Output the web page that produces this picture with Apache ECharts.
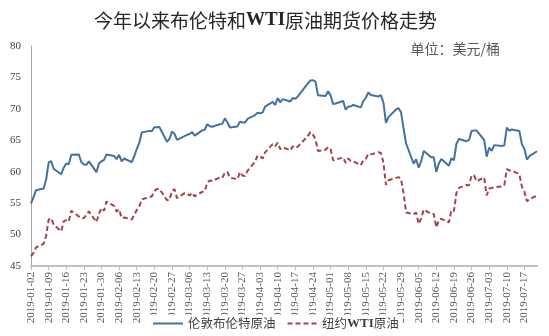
<!DOCTYPE html>
<html><head><meta charset="utf-8">
<script src="https://cdn.jsdelivr.net/npm/echarts@6/dist/echarts.min.js"></script>
<style>html,body{margin:0;padding:0;background:#fff}#c{width:549px;height:336px}</style>
</head><body><div id="c"></div>
<script>
// Trading days (2019, MM-DD)
const dates = [
'01-02','01-03','01-04','01-07','01-08','01-09','01-10','01-11','01-14','01-15','01-16','01-17','01-18','01-21','01-22','01-23','01-24','01-25','01-28','01-29','01-30','01-31',
'02-01','02-04','02-05','02-06','02-07','02-08','02-11','02-12','02-13','02-14','02-15','02-18','02-19','02-20','02-21','02-22','02-25','02-26','02-27','02-28',
'03-01','03-04','03-05','03-06','03-07','03-08','03-11','03-12','03-13','03-14','03-15','03-18','03-19','03-20','03-21','03-22','03-25','03-26','03-27','03-28','03-29',
'04-01','04-02','04-03','04-04','04-05','04-08','04-09','04-10','04-11','04-12','04-15','04-16','04-17','04-18','04-22','04-23','04-24','04-25','04-26','04-29','04-30',
'05-01','05-02','05-03','05-06','05-07','05-08','05-09','05-10','05-13','05-14','05-15','05-16','05-17','05-20','05-21','05-22','05-23','05-24','05-27','05-28','05-29','05-30','05-31',
'06-03','06-04','06-05','06-06','06-07','06-10','06-11','06-12','06-13','06-14','06-17','06-18','06-19','06-20','06-21','06-24','06-25','06-26','06-27','06-28',
'07-01','07-02','07-03','07-04','07-05','07-08','07-09','07-10','07-11','07-12','07-15','07-16','07-17','07-18','07-19','07-22'
];
const brent = [
54.91,55.95,57.06,57.33,58.72,61.44,61.68,60.48,59.59,60.64,61.32,61.18,62.70,62.74,61.50,61.14,61.09,61.64,59.93,61.32,61.65,61.89,
62.75,62.51,61.98,62.69,61.63,62.10,61.51,62.42,63.61,64.57,66.25,66.50,66.45,67.08,67.07,67.12,64.76,65.21,66.39,66.03,
65.07,65.67,65.86,65.99,66.30,65.74,66.58,66.67,67.55,67.23,67.16,67.54,67.61,68.50,67.86,67.03,67.21,67.97,67.83,67.82,68.39,
69.01,69.37,69.31,69.40,70.34,71.10,70.61,71.73,71.02,71.55,71.18,71.72,71.62,71.97,74.04,74.51,74.57,74.35,72.15,72.04,72.80,
72.18,70.75,70.85,71.24,69.88,70.37,70.39,70.62,70.23,71.24,71.77,72.62,72.21,71.97,72.18,70.99,67.76,68.69,69.90,70.11,69.45,66.87,64.49,
61.28,61.97,60.63,61.67,63.29,62.29,62.29,59.97,61.31,62.01,60.94,62.14,61.82,64.45,65.20,64.86,65.05,66.49,66.55,66.55,
65.06,62.40,63.82,63.30,64.23,64.11,64.16,67.01,66.52,66.72,66.48,64.35,63.66,61.93,62.47,63.26
];
const wti = [
46.54,47.09,47.96,48.52,49.78,52.36,52.59,51.59,50.51,52.11,52.31,52.07,53.80,null,52.57,52.62,53.13,53.69,51.99,53.31,54.23,53.79,
55.26,54.56,53.66,54.01,52.64,52.72,52.41,53.10,53.90,54.41,55.59,null,56.09,56.92,57.26,57.26,55.48,55.50,56.94,57.22,
55.80,56.59,56.56,56.22,56.66,56.07,56.79,56.87,58.26,58.61,58.52,59.09,59.03,59.83,59.98,59.04,58.82,59.94,59.41,59.30,60.14,
61.59,62.58,62.46,62.10,63.08,64.40,64.05,64.61,63.58,63.89,63.40,64.05,63.76,64.00,65.70,66.30,65.89,65.21,63.30,63.50,63.91,
63.60,61.81,61.94,62.25,61.40,62.12,61.70,61.66,61.04,61.78,62.02,62.87,62.76,63.10,62.99,61.42,57.91,58.63,null,59.14,58.81,56.59,53.50,
53.25,53.48,51.68,52.59,53.99,53.26,53.27,51.14,52.28,52.51,51.93,53.90,53.76,56.65,57.43,57.90,57.83,59.38,59.43,58.47,
59.09,56.25,57.34,null,57.51,57.66,57.83,60.43,60.20,60.21,59.58,57.62,56.78,55.30,55.63,56.22
];
const tickLabels = [
'2019-01-02','2019-01-09','2019-01-16','2019-01-23','2019-01-30','2019-02-06','2019-02-13','2019-02-20','2019-02-27',
'2019-03-06','2019-03-13','2019-03-20','2019-03-27','2019-04-03','2019-04-10','2019-04-17','2019-04-24','2019-05-01',
'2019-05-08','2019-05-15','2019-05-22','2019-05-29','2019-06-05','2019-06-12','2019-06-19','2019-06-26','2019-07-03',
'2019-07-10','2019-07-17'
];
const seriesNames = ['伦敦布伦特原油','纽约WTI原油'];

const BASE = Date.UTC(2019,0,2);
function dayIndex(s){ const p = s.split('-').map(Number); return Math.round((Date.UTC(p[0],p[1]-1,p[2]) - BASE)/864e5); }
const xs = dates.map(d => dayIndex('2019-' + d));
const tickVals = tickLabels.map(dayIndex);
const lastX = xs[xs.length-1];
function pairs(vals){ return xs.map((x,i)=>[x, vals[i]]).filter(p => p[1] != null); }

const SERIF = '"Liberation Serif", "Times New Roman", serif';
const CJK = '"Noto Sans CJK SC", sans-serif';
const BLUE = '#44729E', RED = '#A2434D';

const chart = echarts.init(document.getElementById('c'), null, {renderer:'canvas'});
chart.setOption({
  animation:false,
  backgroundColor:'#fff',
  title:[{
    text:'{a|今年以来布伦特和}{b|WTI}{a|原油期货价格走势}',
    left:94, top:11, padding:0,
    textStyle:{fontWeight:'normal', rich:{
      a:{fontFamily:CJK, fontSize:19, fontWeight:'normal', color:'#262626'},
      b:{fontFamily:SERIF, fontSize:19, fontWeight:'bold', color:'#262626'}
    }}
  },{
    text:'单位：美元/桶', right:49, top:42, padding:0,
    textStyle:{fontFamily:CJK, fontSize:14, fontWeight:'normal', color:'#595959'}
  }],
  grid:{left:31, right:12, top:46, bottom:70, containLabel:false},
  legend:{
    left:149, top:315, padding:[2,4,2,4], itemGap:12, itemWidth:30, itemHeight:2,
    backgroundColor:'#fff', z:10,
    data:[
      {name:seriesNames[0], icon:'path://M0,0h30v2h-30z'},
      {name:seriesNames[1], icon:'path://M0,0h5v2h-5zM8,0h5v2h-5zM16,0h5v2h-5zM24,0h5v2h-5z'}
    ],
    formatter:function(n){ return n.indexOf('WTI')>=0 ? '{a|纽约}{b|WTI}{a|原油}' : '{a|'+n+'}'; },
    textStyle:{color:'#404040', rich:{
      a:{fontFamily:CJK, fontSize:12.5, color:'#404040'},
      b:{fontFamily:SERIF, fontSize:13, fontWeight:'bold', color:'#404040'}
    }}
  },
  xAxis:{
    type:'value', min:0, max:lastX, interval:7,
    axisLine:{show:true, lineStyle:{color:'#BFBFBF', width:2}},
    axisTick:{show:true, length:4, lineStyle:{color:'#BFBFBF'}, customValues:tickVals},
    axisLabel:{rotate:90, margin:6, fontSize:11, fontFamily:SERIF, color:'#595959',
      customValues:tickVals,
      formatter:function(v){ const i = tickVals.indexOf(v); return i>=0 ? tickLabels[i] : ''; }},
    splitLine:{show:false}
  },
  yAxis:{
    type:'value', min:45, max:80, interval:5,
    axisLine:{show:true, lineStyle:{color:'#A6A6A6', width:1}},
    axisTick:{show:false},
    axisLabel:{margin:10, fontSize:11, fontFamily:SERIF, color:'#404040'},
    splitLine:{show:false}
  },
  series:[{
    name:seriesNames[0], type:'line', symbol:'none', data:pairs(brent),
    itemStyle:{color:BLUE}, lineStyle:{color:BLUE, width:2}
  },{
    name:seriesNames[1], type:'line', symbol:'none', data:pairs(wti),
    itemStyle:{color:RED}, lineStyle:{color:RED, width:2, type:[5,3]}
  }]
});
</script></body></html>
